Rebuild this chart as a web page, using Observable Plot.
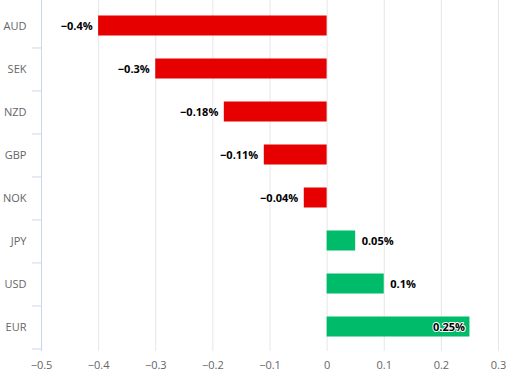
<!DOCTYPE html>
<html>
<head>
<meta charset="utf-8">
<script src="https://cdn.jsdelivr.net/npm/d3@7"></script>
<script src="https://cdn.jsdelivr.net/npm/@observablehq/plot@0.6"></script>
<style>
  html, body { margin: 0; padding: 0; background: #fff; }
  #chart { width: 508px; height: 382px; }
</style>
</head>
<body>
<div id="chart"></div>
<script>
const currencies = ["AUD", "SEK", "NZD", "GBP", "NOK", "JPY", "USD", "EUR"];
const changes = [-0.4, -0.3, -0.18, -0.11, -0.04, 0.05, 0.1, 0.25];
const xTicks = [-0.5, -0.4, -0.3, -0.2, -0.1, 0, 0.1, 0.2, 0.3];

const data = currencies.map((c, i) => ({ c, v: changes[i] }));
const fmt = v => String(v).replace("-", "\u2212") + "%";

const W = 508, H = 382, mL = 41, mR = 10, mT = 0, mB = 31;
const step = (H - mT - mB) / currencies.length;

const font = "'Open Sans', sans-serif";
const labelStyle = { fontSize: 11, fontWeight: "bold", fill: "#000", stroke: "#fff", strokeWidth: 2, paintOrder: "stroke" };

const chart = Plot.plot({
  width: W, height: H,
  marginLeft: mL, marginRight: mR, marginTop: mT, marginBottom: mB,
  style: { fontFamily: font, background: "#fff" },
  x: { domain: [-0.5, 0.3] },
  y: { domain: currencies, padding: 0 },
  marks: [
    Plot.gridX(xTicks, { stroke: "#e6e6e6", strokeOpacity: 1 }),
    Plot.axisX(xTicks, { tickSize: 0, tickPadding: 10, fontSize: 11, fill: "#666", tickFormat: d3.format("~g") , label: null}),
    Plot.axisY({ tickSize: 0, tickPadding: 15, fontSize: 11, fill: "#666", label: null }),
    Plot.axisY({ tickSize: 9, tickFormat: () => "", stroke: "#ccd6eb", dy: step / 2, label: null }),
    Plot.ruleX([-0.5], { stroke: "#ccd6eb" }),
    Plot.barX(data, {
      y: "c", x1: 0, x2: "v",
      fill: d => d.v < 0 ? "#e60000" : "#00bc6a",
      insetTop: 11.5, insetBottom: 11.5
    }),
    Plot.text(data.filter(d => d.v < 0), { y: "c", x: "v", text: d => fmt(d.v), textAnchor: "end", dx: -6, ...labelStyle }),
    Plot.text(data.filter(d => d.v > 0 && d.v <= 0.2), { y: "c", x: "v", text: d => fmt(d.v), textAnchor: "start", dx: 6, ...labelStyle }),
    Plot.text(data.filter(d => d.v > 0.2), { y: "c", x: "v", text: d => fmt(d.v), textAnchor: "end", dx: -5, ...labelStyle })
  ]
});
document.getElementById("chart").appendChild(chart);
</script>
</body>
</html>
